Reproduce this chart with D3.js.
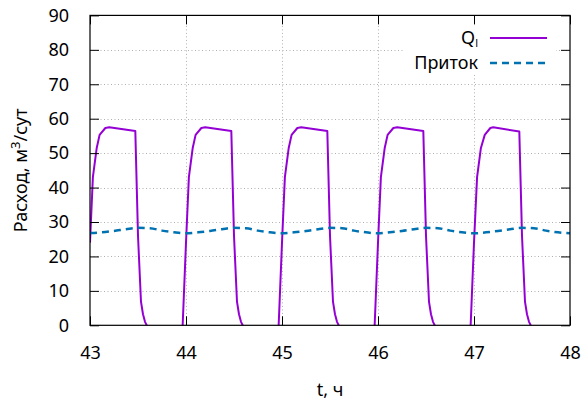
<!DOCTYPE html>
<html>
<head>
<meta charset="utf-8">
<script src="https://cdn.jsdelivr.net/npm/d3@7"></script>
<style>
  body { margin: 0; background: #fff; }
  text { font-family: "Noto Sans", sans-serif; font-size: 18px; fill: #000; }
</style>
</head>
<body>
<svg id="chart" width="586" height="404"></svg>
<script>
// Данные
const xTicks = [43, 44, 45, 46, 47, 48];
const yTicks = [0, 10, 20, 30, 40, 50, 60, 70, 80, 90];

// Q_l : время (ч) и расход
const qTime = [
  43.000, 43.030, 43.070, 43.100, 43.160, 43.200, 43.472, 43.500, 43.531, 43.552, 43.573, 43.600, 43.640, 43.955,
  44.000, 44.030, 44.070, 44.100, 44.160, 44.200, 44.472, 44.500, 44.531, 44.552, 44.573, 44.600, 44.640, 44.955,
  45.000, 45.030, 45.070, 45.100, 45.160, 45.200, 45.472, 45.500, 45.531, 45.552, 45.573, 45.600, 45.640, 45.955,
  46.000, 46.030, 46.070, 46.100, 46.160, 46.200, 46.472, 46.500, 46.531, 46.552, 46.573, 46.600, 46.640, 46.955,
  47.000, 47.032, 47.072, 47.112, 47.170, 47.200, 47.472, 47.500, 47.531, 47.552, 47.573, 47.600, 47.640
];
const qValue = [
  24.0, 43.0, 51.5, 55.3, 57.3, 57.5, 56.4, 26.0, 6.9, 3.2, 1.0, -0.5, -8, -7,
  24.0, 43.0, 51.5, 55.3, 57.3, 57.5, 56.4, 26.0, 6.9, 3.2, 1.0, -0.5, -8, -7,
  24.0, 43.0, 51.5, 55.3, 57.3, 57.5, 56.4, 26.0, 6.9, 3.2, 1.0, -0.5, -8, -7,
  24.0, 43.0, 51.5, 55.3, 57.3, 57.5, 56.4, 26.0, 6.9, 3.2, 1.0, -0.5, -8, -7,
  24.0, 43.0, 51.5, 55.3, 57.3, 57.5, 56.3, 26.0, 6.9, 3.2, 1.0, -0.5, -8
];

// Приток : шаг 0.125 ч
const inTime = [
  43.000, 43.125, 43.250, 43.375, 43.500, 43.625, 43.750, 43.875,
  44.000, 44.125, 44.250, 44.375, 44.500, 44.625, 44.750, 44.875,
  45.000, 45.125, 45.250, 45.375, 45.500, 45.625, 45.750, 45.875,
  46.000, 46.125, 46.250, 46.375, 46.500, 46.625, 46.750, 46.875,
  47.000, 47.125, 47.250, 47.375, 47.500, 47.625, 47.750, 47.875, 48.000
];
const inValue = [
  26.8, 27.0, 27.4, 27.9, 28.3, 28.2, 27.5, 27.0,
  26.7, 27.0, 27.4, 27.9, 28.3, 28.2, 27.5, 27.0,
  26.7, 27.0, 27.4, 27.9, 28.3, 28.2, 27.5, 27.0,
  26.7, 27.0, 27.4, 27.9, 28.3, 28.2, 27.5, 27.0,
  26.7, 27.0, 27.4, 27.9, 28.3, 28.2, 27.5, 27.0, 26.7
];

const w = 586, h = 404;
const mLeft = 90, mRight = 570, mTop = 15.4, mBottom = 325.3;

const svg = d3.select("#chart");

const xScale = d3.scaleLinear().domain([43, 48]).range([mLeft, mRight]);
const yScale = d3.scaleLinear().domain([0, 90]).range([mBottom, mTop]);

// сетка (пунктир)
const grid = svg.append("g").attr("stroke", "#b0b0b0").attr("stroke-width", 1)
  .attr("stroke-dasharray", "1,2.5").attr("fill", "none");
grid.selectAll(".gy").data(yTicks.filter(d => d > 0 && d < 90)).join("line")
  .attr("x1", mLeft).attr("x2", mRight)
  .attr("y1", d => Math.round(yScale(d)) + 0.5).attr("y2", d => Math.round(yScale(d)) + 0.5);
grid.selectAll(".gx").data(xTicks.filter(d => d > 43 && d < 48)).join("line")
  .attr("y1", mTop).attr("y2", mBottom)
  .attr("x1", d => Math.round(xScale(d)) + 0.5).attr("x2", d => Math.round(xScale(d)) + 0.5);

// кривые
svg.append("clipPath").attr("id", "clip").append("rect")
  .attr("x", mLeft).attr("y", mTop).attr("width", mRight - mLeft).attr("height", mBottom - mTop);

const qData = qTime.map((t, i) => [t, qValue[i]]);
const inData = inTime.map((t, i) => [t, inValue[i]]);

const line = d3.line().x(d => xScale(d[0])).y(d => yScale(d[1]));
const smooth = d3.line().x(d => xScale(d[0])).y(d => yScale(d[1])).curve(d3.curveMonotoneX);

const plot = svg.append("g").attr("clip-path", "url(#clip)");
plot.append("path").datum(qData).attr("d", line)
  .attr("fill", "none").attr("stroke", "#9400d3").attr("stroke-width", 2)
  .attr("stroke-linejoin", "round");
plot.append("path").datum(inData).attr("d", smooth)
  .attr("fill", "none").attr("stroke", "#0072b2").attr("stroke-width", 2.5)
  .attr("stroke-dasharray", "7,5");

// оси с засечками внутрь и зеркальными засечками
const tl = 9;
svg.append("g").attr("transform", `translate(0,${mBottom})`)
  .call(d3.axisBottom(xScale).tickValues(xTicks).tickFormat(d3.format("d"))
    .tickSizeInner(-tl).tickSizeOuter(0).tickPadding(21))
  .call(g => g.select(".domain").remove());
svg.append("g").attr("transform", `translate(0,${mTop})`)
  .call(d3.axisTop(xScale).tickValues(xTicks).tickSizeInner(-tl).tickSizeOuter(0).tickFormat(""))
  .call(g => g.select(".domain").remove());
svg.append("g").attr("transform", `translate(${mLeft},0)`)
  .call(d3.axisLeft(yScale).tickValues(yTicks).tickSizeInner(-tl).tickSizeOuter(0).tickPadding(21))
  .call(g => g.select(".domain").remove());
svg.append("g").attr("transform", `translate(${mRight},0)`)
  .call(d3.axisRight(yScale).tickValues(yTicks).tickSizeInner(-tl).tickSizeOuter(0).tickFormat(""))
  .call(g => g.select(".domain").remove());

svg.selectAll(".tick line").attr("stroke", "#000").attr("stroke-width", 1);
svg.selectAll(".tick text").attr("font-size", 18).attr("font-family", "Noto Sans, sans-serif");

// рамка
svg.append("rect").attr("x", mLeft).attr("y", mTop).attr("width", mRight - mLeft).attr("height", mBottom - mTop)
  .attr("fill", "none").attr("stroke", "#000").attr("stroke-width", 1.2);

// подписи осей
svg.append("text").attr("x", (mLeft + mRight) / 2).attr("y", 396).attr("text-anchor", "middle").text("t, ч");
const yl = svg.append("text").attr("transform", `translate(27,${(mTop + mBottom) / 2}) rotate(-90)`)
  .attr("text-anchor", "middle");
yl.append("tspan").text("Расход, м");
yl.append("tspan").attr("dy", -7).attr("font-size", 13).text("3");
yl.append("tspan").attr("dy", 7).text("/сут");

// легенда (непрозрачная)
svg.append("rect").attr("x", 404).attr("y", 26).attr("width", 152).attr("height", 49).attr("fill", "#fff");
const legend = [
  { name: "Q", sub: "l", color: "#9400d3", dash: null, width: 2 },
  { name: "Приток", sub: null, color: "#0072b2", dash: "7,5", width: 2.5 }
];
legend.forEach((d, i) => {
  const y = 38 + i * 25;
  const t = svg.append("text").attr("x", 478).attr("y", y + 6).attr("text-anchor", "end")
    .attr("font-size", 17);
  t.append("tspan").text(d.name);
  if (d.sub) t.append("tspan").attr("dy", 3).attr("font-size", 11).text(d.sub);
  svg.append("line").attr("x1", 490).attr("x2", 547).attr("y1", y).attr("y2", y)
    .attr("stroke", d.color).attr("stroke-width", d.width).attr("stroke-dasharray", d.dash);
});
</script>
</body>
</html>
